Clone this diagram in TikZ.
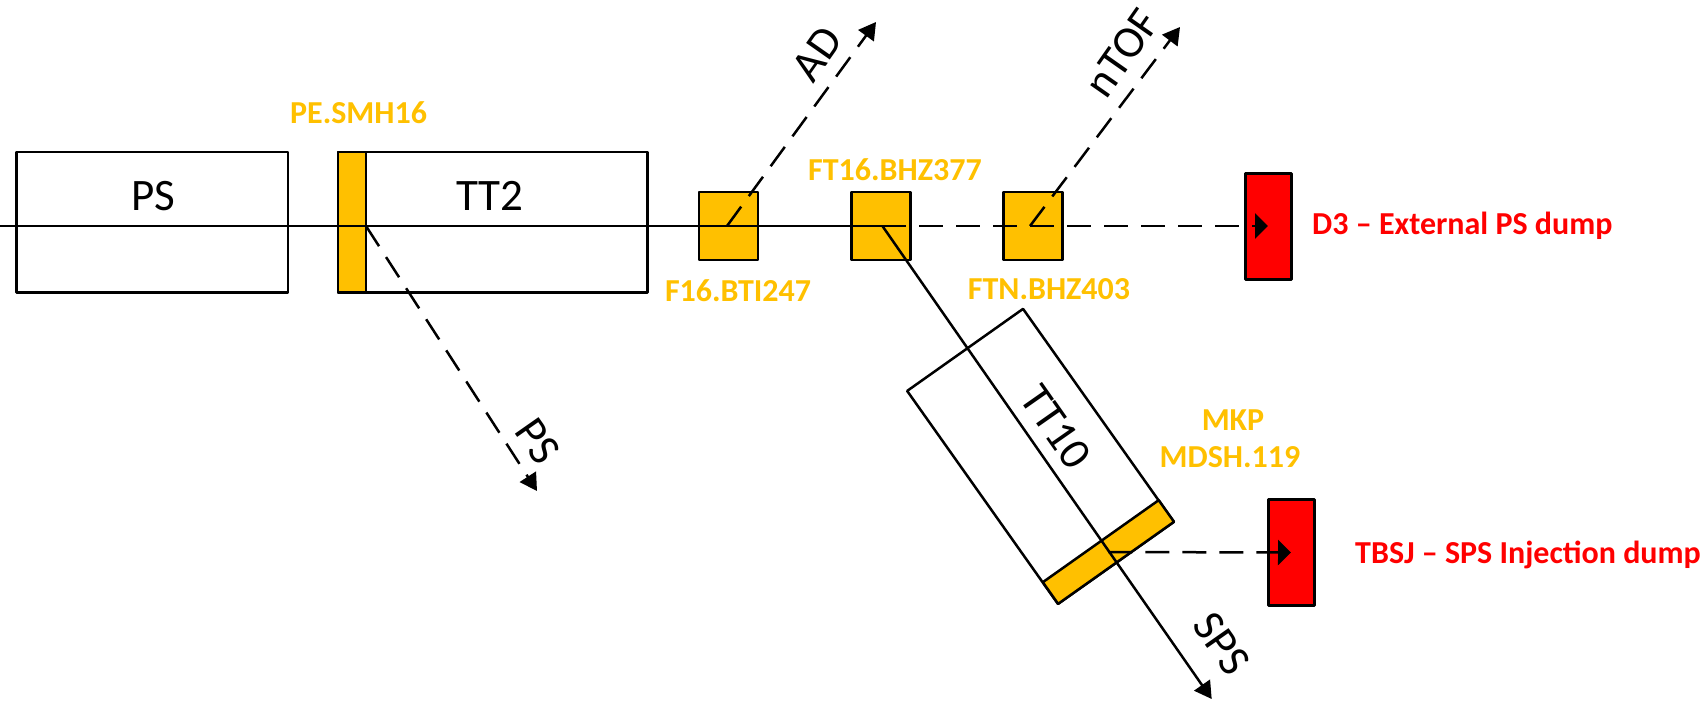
\documentclass[tikz,border=0pt]{standalone}
\usepackage{fontspec}
\setmainfont{Carlito}
\usetikzlibrary{arrows.meta}
\definecolor{magnetY}{HTML}{FFC000}
\definecolor{dumpR}{HTML}{FF0000}
\tikzset{
  x=1pt,y=-1pt,
  boxb/.style={draw=black,line width=2.5pt,inner sep=0pt,outer sep=0pt,line join=round},
  magnet/.style={boxb,fill=magnetY},
  dumpbox/.style={boxb,line width=3pt,fill=dumpR,minimum width=46pt,minimum height=106pt},
  squaremag/.style={magnet,minimum width=59pt,minimum height=68pt},
  beam/.style={line width=2.5pt,draw=black},
  dashbeam/.style={beam,dash pattern=on 24pt off 13pt},
  tip/.style={-{Triangle[length=17pt,width=19pt]}},
  dumptip/.style={-{Triangle[length=13pt,width=25pt]}},
  maglabel/.style={inner sep=0pt,text=magnetY,font=\fontsize{32}{36}\selectfont\bfseries},
  dumplabel/.style={inner sep=0pt,text=dumpR,font=\fontsize{32}{36}\selectfont\bfseries},
  blacklabel/.style={inner sep=0pt,text=black,font=\fontsize{45}{50}\selectfont},
}
\begin{document}
\begin{tikzpicture}
\useasboundingbox (0,0) rectangle (1704,707);
% boxes
\node[boxb,minimum width=271.7pt,minimum height=140.3pt] (psbox) at (152.15,222.1) {};
\node[boxb,minimum width=309.7pt,minimum height=140.3pt] (tt2) at (492.85,222.1) {};
\node[magnet,minimum width=28pt,minimum height=140.3pt] (smh) at (352,222.1) {};
\node[squaremag] (bti) at (728.7,226) {};
\node[squaremag] (bhz) at (881,226) {};
\node[squaremag] (ftn) at (1033,226) {};
\node[dumpbox] (d3) at (1268,226) {};
\node[dumpbox] (tbsj) at (1291,552.5) {};
\node[boxb,minimum width=261pt,minimum height=142pt,rotate=-54.7] (tt10) at (1040.5,456.4) {};
\node[magnet,minimum width=26.5pt,minimum height=142pt,rotate=-54.7] (mkp) at (1108.4,552) {};
% beam anchors
\coordinate (in) at (0,226);
\coordinate (split) at (882.4,226);
\coordinate (smhout) at (366,226);
\coordinate (btiout) at (727,226);
\coordinate (ftnout) at (1030,226);
\coordinate (psend) at (537,491);
\coordinate (adend) at (876,22);
\coordinate (ntofend) at (1180,27);
\coordinate (spsend) at (1211.7,699);
% beams
\draw[beam] (in) -- (split);
\draw[beam,tip] (split) -- (spsend);
\draw[dashbeam,dumptip] (split) -- (d3.center);
\draw[dashbeam,tip] (smhout) -- (psend);
\draw[dashbeam,tip] (btiout) -- (adend);
\draw[dashbeam,tip] (ftnout) -- (ntofend);
\draw[dashbeam,dumptip] (mkp.center) -- (tbsj.center);
% labels
\node[blacklabel] (lps) at (153,196) {PS};
\node[blacklabel] (ltt2) at (490,196) {TT2};
\node[blacklabel,rotate=55] (lad) at (817,54) {AD};
\node[blacklabel,rotate=55] (lntof) at (1122,53) {nTOF};
\node[blacklabel,rotate=-55] (lps2) at (538,441) {PS};
\node[blacklabel,rotate=-55] (ltt10) at (1056,427) {TT10};
\node[blacklabel,rotate=-55] (lsps) at (1222,644) {SPS};
\node[maglabel] (l1) at (358.6,113) {PE.SMH16};
\node[maglabel] (l2) at (895,169.5) {FT16.BHZ377};
\node[maglabel] (l3) at (738,291) {F16.BTI247};
\node[maglabel] (l4) at (1049,289) {FTN.BHZ403};
\node[maglabel] (l5) at (1233,420.5) {MKP};
\node[maglabel] (l6) at (1230,457.5) {MDSH.119};
\node[dumplabel,anchor=west] (l7) at (1312,226) {D3 – External PS dump};
\node[dumplabel,anchor=west] (l8) at (1355,555) {TBSJ – SPS Injection dump};
\end{tikzpicture}
\end{document}
